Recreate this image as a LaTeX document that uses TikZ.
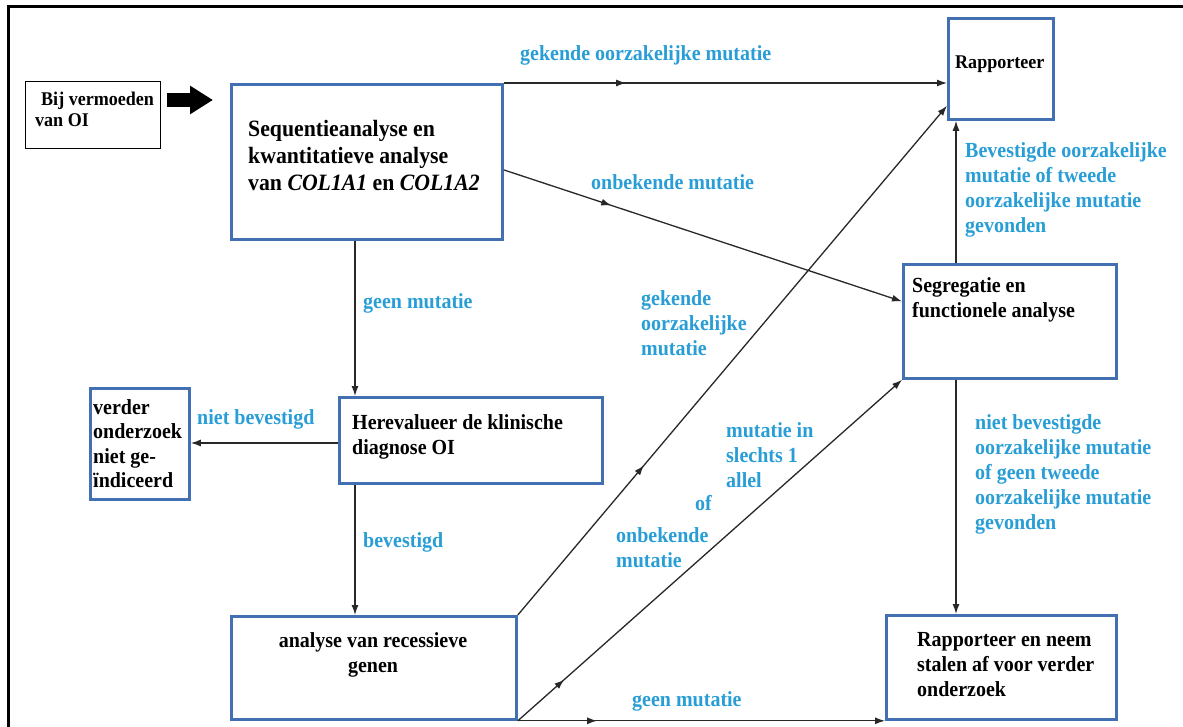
\documentclass[tikz,border=0pt]{standalone}
\usepackage{fontspec}
\setmainfont{Liberation Serif}[FakeStretch=0.93]
\usetikzlibrary{arrows.meta,decorations.markings,calc}
\definecolor{boxblue}{RGB}{66,112,178}
\definecolor{lblue}{RGB}{41,158,214}
\definecolor{linegray}{RGB}{40,40,40}
\tikzset{
  box/.style={draw=boxblue, line width=2.8pt, rectangle, inner sep=0pt, anchor=north west},
  txt/.style={inner sep=0pt, align=left, anchor=north west, font=\fontsize{21.5}{25}\selectfont\bfseries},
  lbl/.style={txt, text=lblue},
  conn/.style={draw=linegray, line width=1.3pt},
  tip/.style={-{Latex[length=10pt,width=7pt]}},
  midarrow/.style={postaction={decorate}, decoration={markings, mark=at position #1 with {\arrow{Latex[length=10pt,width=7pt]}}}}
}
\begin{document}
\begin{tikzpicture}[x=1pt,y=-1pt]
\useasboundingbox (0,0) rectangle (1183,727);
\fill[white] (0,0) rectangle (1183,727);
% outer frame
\draw[line width=3pt] (8,760) -- (8,7) -- (1200,7);

% boxes
\node[box, draw=black, line width=1pt, minimum width=135pt, minimum height=67pt] (bij) at (25,81) {};
\node[box, minimum width=271pt, minimum height=155pt] (main) at (230,83) {};
\node[box, minimum width=105pt, minimum height=101pt] (rap) at (947,17) {};
\node[box, minimum width=213pt, minimum height=114pt] (seg) at (902,263) {};
\node[box, minimum width=263pt, minimum height=86pt] (here) at (338,396) {};
\node[box, minimum width=99pt, minimum height=111pt] (verder) at (89,387) {};
\node[box, minimum width=285pt, minimum height=103pt] (ana) at (230,615) {};
\node[box, minimum width=230pt, minimum height=104pt] (rapn) at (885,614) {};

% box texts
\node[txt, font=\fontsize{19.4}{21}\selectfont\bfseries] (tbij) at (35,92) {\hspace*{6pt}Bij vermoeden\\van OI};
\node[txt, font=\fontsize{23.4}{27}\selectfont\bfseries] (tmain) at (248,120) {Sequentieanalyse en\\kwantitatieve analyse\\van \textit{COL1A1} en \textit{COL1A2}};
\node[txt, font=\fontsize{19.4}{21}\selectfont\bfseries] (trap) at (955,56) {Rapporteer};
\node[txt] (tseg) at (912,277) {Segregatie en\\functionele analyse};
\node[txt] (there) at (352,414) {Herevalueer de klinische\\diagnose OI};
\node[txt, font=\fontsize{21.5}{24.5}\selectfont\bfseries] (tverder) at (93,399) {verder\\onderzoek\\niet ge-\\ïndiceerd};
\node[txt, align=center, anchor=north] (tana) at (373,632) {analyse van recessieve\\genen};
\node[txt] (trapn) at (917,632) {Rapporteer en neem\\stalen af voor verder\\onderzoek};

% block arrow
\coordinate (ba1) at (167,100);
\coordinate (ba2) at (213,100);
\draw[line width=14pt, -{Triangle[length=23pt,width=27pt]}] (ba1) -- (ba2);

% helper coordinates
\coordinate (vx) at (355,0);
\coordinate (vx2) at (956,0);
\coordinate (hy) at (0,443);

% connectors
\draw[conn, tip, midarrow=0.276] (main.north east) -- (main.north east -| rap.west);
\draw[conn, tip, midarrow=0.27] ([yshift=-8pt]main.east) -- ([yshift=20pt]seg.west);
\draw[conn, tip] (main.south -| vx) -- (here.north -| vx);
\draw[conn, tip] (here.west |- hy) -- (verder.east |- hy);
\draw[conn, tip] (here.south -| vx) -- (ana.north -| vx);
\draw[conn, tip, midarrow=0.294] (ana.north east) -- ([yshift=15pt]rap.south west);
\draw[conn, tip, midarrow=0.121] (ana.south east) -- (seg.south west);
\draw[conn, tip, midarrow=0.216] (ana.south east) -- (rapn.south west);
\draw[conn, tip] (seg.north -| vx2) -- (rap.south -| vx2);
\draw[conn, tip] (seg.south -| vx2) -- (rapn.north -| vx2);

% labels
\node[lbl] (l1) at (520,45) {gekende oorzakelijke mutatie};
\node[lbl] (l2) at (591,174) {onbekende mutatie};
\node[lbl] (l3) at (363,293) {geen mutatie};
\node[lbl] (l4) at (197,409) {niet bevestigd};
\node[lbl] (l5) at (363,532) {bevestigd};
\node[lbl] (l6) at (641,290) {gekende\\oorzakelijke\\mutatie};
\node[lbl] (l7) at (726,422) {mutatie in\\slechts 1\\allel};
\node[lbl] (l8) at (695,495) {of};
\node[lbl] (l9) at (616,527) {onbekende\\mutatie};
\node[lbl] (l10) at (632,691) {geen mutatie};
\node[lbl] (l11) at (965,142) {Bevestigde oorzakelijke\\mutatie of tweede\\oorzakelijke mutatie\\gevonden};
\node[lbl] (l12) at (975,414) {niet bevestigde\\oorzakelijke mutatie\\of geen tweede\\oorzakelijke mutatie\\gevonden};
\end{tikzpicture}
\end{document}
